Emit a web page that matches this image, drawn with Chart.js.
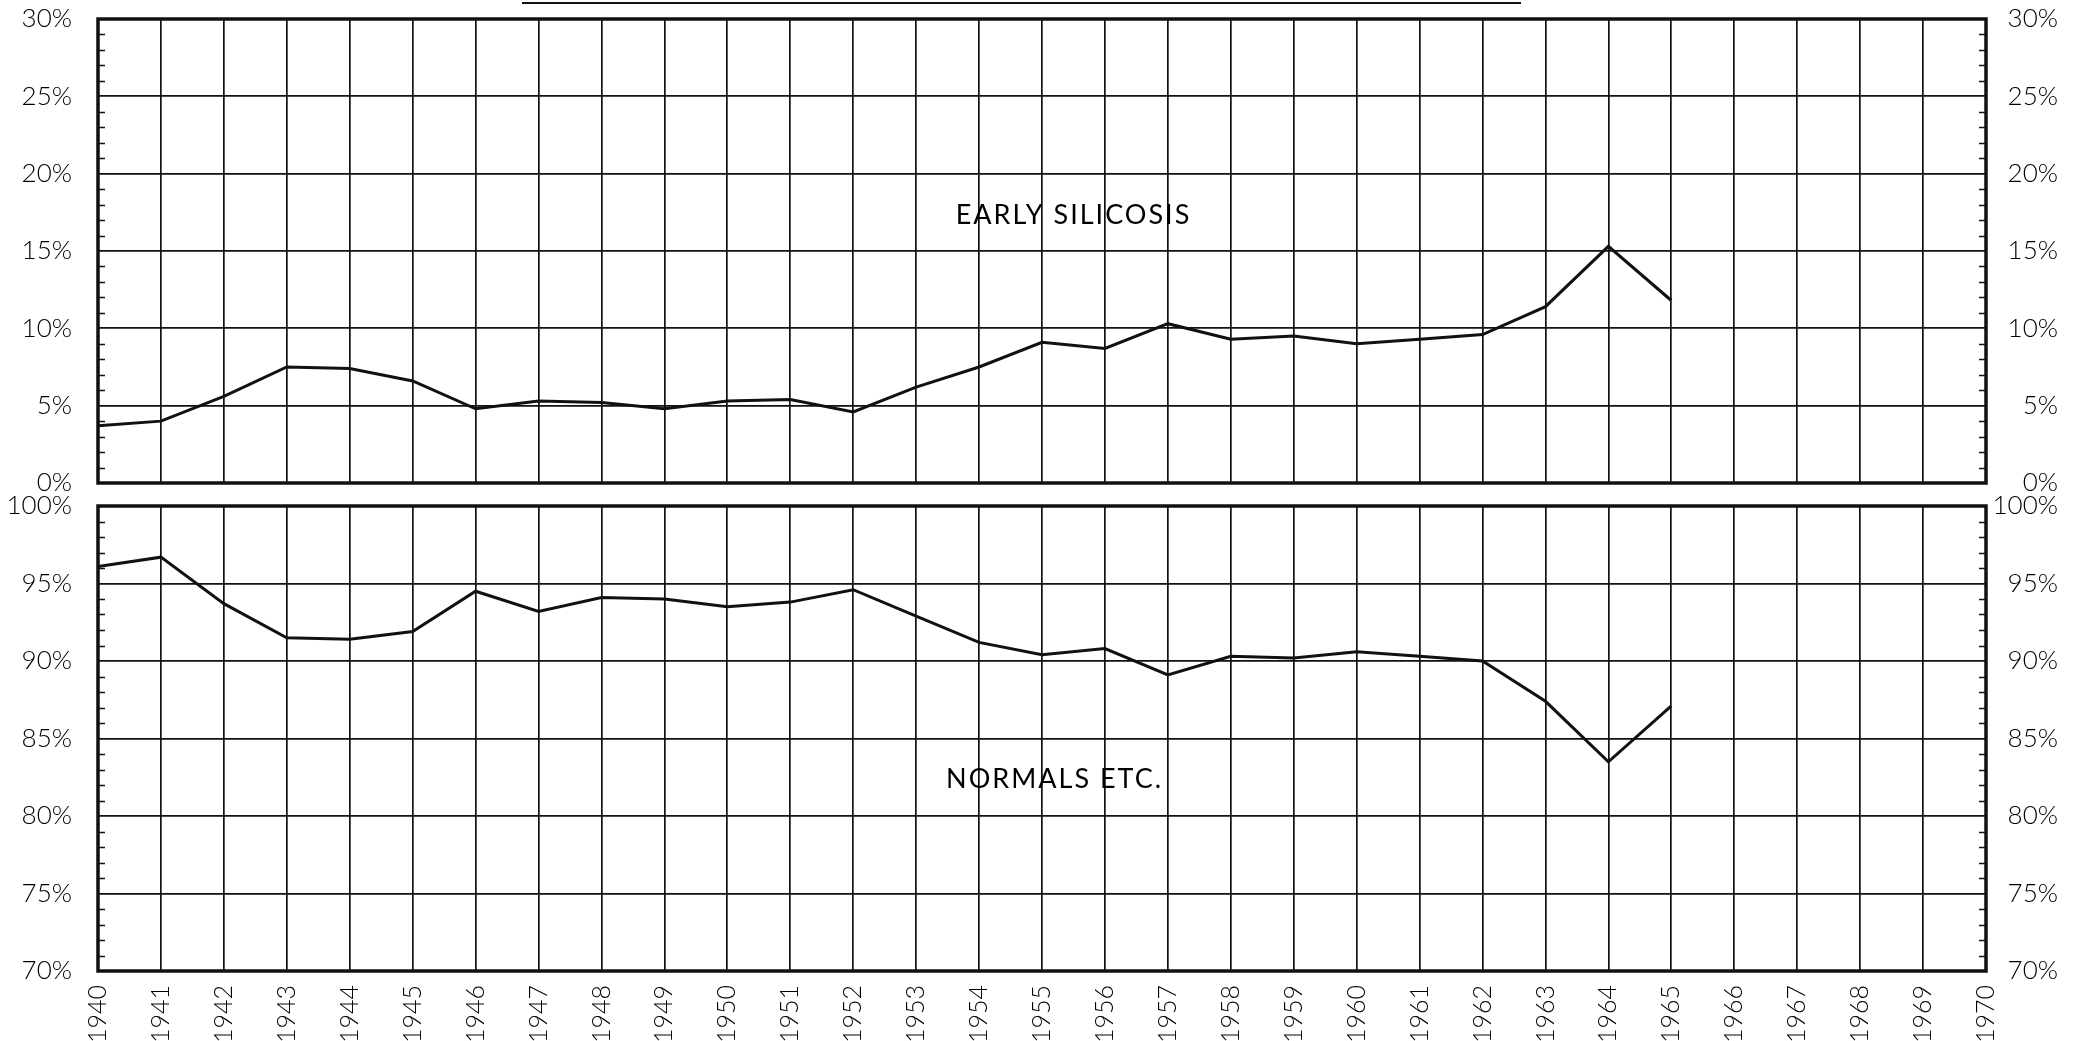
<!DOCTYPE html>
<html>
<head>
<meta charset="utf-8">
<script src="https://cdn.jsdelivr.net/npm/chart.js@4.4.1/dist/chart.umd.min.js"></script>
<style>
  html, body { margin: 0; padding: 0; background: #fff; }
  body { width: 2082px; height: 1041px; position: relative; overflow: hidden; }
  canvas { position: absolute; left: 0; }
  #topChart { top: 0; }
  #bottomChart { top: 470px; }
</style>
</head>
<body>
<canvas id="topChart" width="2082" height="520"></canvas>
<canvas id="bottomChart" width="2082" height="571"></canvas>
<script>
// Yearly share of examined workers, by class
const years = [1940, 1941, 1942, 1943, 1944, 1945, 1946, 1947, 1948, 1949, 1950, 1951, 1952,
               1953, 1954, 1955, 1956, 1957, 1958, 1959, 1960, 1961, 1962, 1963, 1964, 1965];
const earlySilicosis = [3.7, 4.0, 5.6, 7.5, 7.4, 6.6, 4.8, 5.3, 5.2, 4.8, 5.3, 5.4, 4.6,
                        6.2, 7.5, 9.1, 8.7, 10.3, 9.3, 9.5, 9.0, 9.3, 9.6, 11.4, 15.3, 11.8];
const normalsEtc = [96.1, 96.7, 93.7, 91.5, 91.4, 91.9, 94.5, 93.2, 94.1, 94.0, 93.5, 93.8, 94.6,
                    92.9, 91.2, 90.4, 90.8, 89.1, 90.3, 90.2, 90.6, 90.3, 90.0, 87.4, 83.5, 87.1];

// axis ranges and tick steps
const yearRange = [1940, 1970];
const topRange = [0, 30];
const bottomRange = [70, 100];
const majorStep = 5;
const minorStep = 1;

const ink = '#111';
const textInk = '#000';
const fontFamily = 'Lato, "DejaVu Sans", sans-serif';

// frame, inward minor ticks and the panel caption
const panelFrame = {
  id: 'panelFrame',
  afterDraw(chart, args, opts) {
    const { ctx, chartArea: a, scales } = chart;
    const y = scales.y;
    ctx.save();
    ctx.strokeStyle = ink;
    ctx.lineWidth = 1.6;
    for (let v = y.min + minorStep; v < y.max; v += minorStep) {
      if (v % majorStep === 0) continue;
      const py = Math.round(y.getPixelForValue(v)) + 0.5;
      ctx.beginPath();
      ctx.moveTo(a.left, py); ctx.lineTo(a.left + 7, py);
      ctx.moveTo(a.right - 7, py); ctx.lineTo(a.right, py);
      ctx.stroke();
    }
    ctx.lineWidth = 3.5;
    ctx.strokeRect(a.left, a.top, a.width, a.height);

    if (opts.caption) {
      ctx.fillStyle = textInk;
      ctx.font = '27px ' + fontFamily;
      ctx.letterSpacing = '2px';
      ctx.textAlign = 'center';
      ctx.textBaseline = 'middle';
      ctx.fillText(opts.caption.text,
        scales.x.getPixelForValue(opts.caption.x),
        y.getPixelForValue(opts.caption.y));
    }
    if (opts.headingRule) {
      // underline of the heading that runs off the top edge
      ctx.lineWidth = 2;
      ctx.beginPath();
      ctx.moveTo(opts.headingRule[0], 3);
      ctx.lineTo(opts.headingRule[1], 3);
      ctx.stroke();
    }
    ctx.restore();
  }
};

function makePanel(canvasId, data, range, opts) {
  const tickFont = { family: fontFamily, size: 26, weight: 300 };
  return new Chart(document.getElementById(canvasId), {
    type: 'line',
    data: {
      datasets: [{
        data: years.map((yr, i) => ({ x: yr, y: data[i] })),
        borderColor: ink,
        borderWidth: 3,
        pointRadius: 0,
        tension: 0,
        fill: false
      }]
    },
    options: {
      responsive: false,
      animation: false,
      layout: { padding: { top: opts.padTop, right: 24, left: 0, bottom: 0 } },
      plugins: {
        legend: { display: false },
        tooltip: { enabled: false },
        panelFrame: { caption: opts.caption, headingRule: opts.headingRule }
      },
      scales: {
        x: {
          type: 'linear',
          min: yearRange[0],
          max: yearRange[1],
          grid: { color: ink, lineWidth: 1.7, drawTicks: false },
          border: { display: false },
          ticks: {
            display: opts.showYears,
            stepSize: 1,
            autoSkip: false,
            minRotation: 90,
            maxRotation: 90,
            padding: 14,
            color: textInk,
            font: { family: fontFamily, size: 25, weight: 300 },
            callback: v => String(v)
          },
          afterFit: s => { s.height = opts.xHeight; }
        },
        y: {
          position: 'left',
          min: range[0],
          max: range[1],
          // invisible tick marks keep the labels clear of the frame
          grid: { color: ink, lineWidth: 1.7, drawTicks: true, tickLength: 26, tickColor: 'rgba(0,0,0,0)' },
          border: { display: false },
          ticks: { stepSize: majorStep, padding: 0, color: textInk, font: tickFont, callback: v => v + '%' },
          afterFit: s => { s.width = 98; }
        },
        y2: {
          position: 'right',
          min: range[0],
          max: range[1],
          grid: { display: false, drawTicks: false },
          border: { display: false },
          ticks: { stepSize: majorStep, padding: 0, crossAlign: 'far', color: textInk, font: tickFont, callback: v => v + '%' },
          afterFit: s => { s.width = 72; }
        }
      }
    },
    plugins: [panelFrame]
  });
}

makePanel('topChart', earlySilicosis, topRange, {
  padTop: 19, xHeight: 37, showYears: false,
  caption: { text: 'EARLY SILICOSIS', x: 1955.5, y: 17.3 },
  headingRule: [522, 1521]
});
makePanel('bottomChart', normalsEtc, bottomRange, {
  padTop: 36, xHeight: 70, showYears: true,
  caption: { text: 'NORMALS ETC.', x: 1955.2, y: 82.4 }
});
</script>
</body>
</html>
